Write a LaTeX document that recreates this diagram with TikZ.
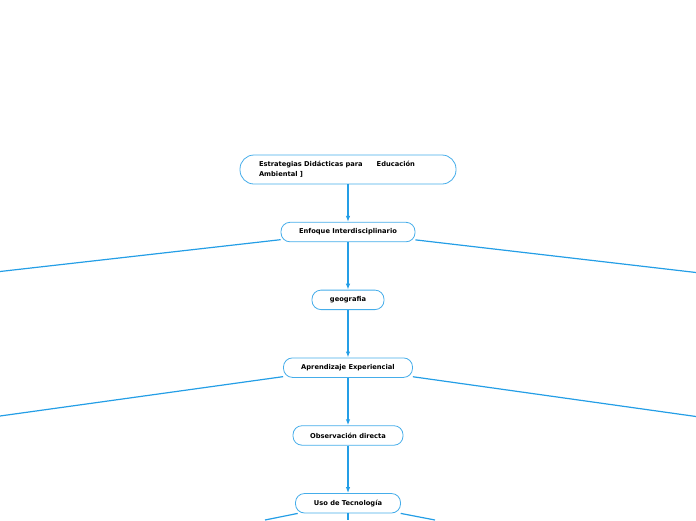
\documentclass[tikz,border=0pt]{standalone}
\usepackage{fontspec}
\setmainfont{DejaVu Sans}
\usetikzlibrary{positioning,arrows.meta}
\definecolor{lineblue}{RGB}{36,158,230}
\tikzstyle{box} = [rectangle, text centered, minimum height=19.5pt, rounded corners=9pt,
    draw=lineblue!85, line width=0.8pt, fill=white,
    font=\fontsize{6.7}{9.8}\selectfont\bfseries, inner xsep=0pt]
\tikzstyle{title} = [box, rounded corners=14pt, minimum height=29pt,
    text width=178pt, align=left, inner xsep=19pt]
\tikzstyle{arrow} = [-{Latex[length=6pt,width=4.5pt]}, lineblue, line width=1.2pt]
\tikzstyle{branch} = [lineblue, line width=1.2pt]

\begin{document}
\begin{tikzpicture}[%
x=1pt,y=-1pt,
node distance=47.5pt,
]
\useasboundingbox (0,0) rectangle (696,520);

\node[title] (root) at (348,169.5) {Estrategias Didácticas para\hspace{14pt}Educación\\Ambiental ]};
\node[box,minimum width=134pt,below=37.5pt of root] (enfoque) {Enfoque Interdisciplinario};
\node[box,minimum width=72pt,below=of enfoque] (geo) {geografia};
\node[box,minimum width=129pt,below=of geo] (aprend) {Aprendizaje Experiencial};
\node[box,minimum width=110pt,below=of aprend] (obs) {Observación directa};
\node[box,minimum width=105pt,below=of obs] (uso) {Uso de Tecnología};

% free ends beyond the page
\coordinate (enfL) at (0,271.5);
\coordinate (enfR) at (696,272.5);
\coordinate (aprL) at (0,416);
\coordinate (aprR) at (696,416.5);
\coordinate (usoL) at (265,520);
\coordinate (usoR) at (435,520);
\coordinate (usoD) at (348,520);

\draw [arrow] (root) -- (enfoque);
\draw [arrow] (enfoque) -- (geo);
\draw [arrow] (geo) -- (aprend);
\draw [arrow] (aprend) -- (obs);
\draw [arrow] (obs) -- (uso);

\draw [branch] (enfoque) -- (enfL);
\draw [branch] (enfoque) -- (enfR);
\draw [branch] (aprend) -- (aprL);
\draw [branch] (aprend) -- (aprR);
\draw [branch] (uso) -- (usoL);
\draw [branch] (uso) -- (usoR);
\draw [branch] (uso) -- (usoD);

\end{tikzpicture}
\end{document}
